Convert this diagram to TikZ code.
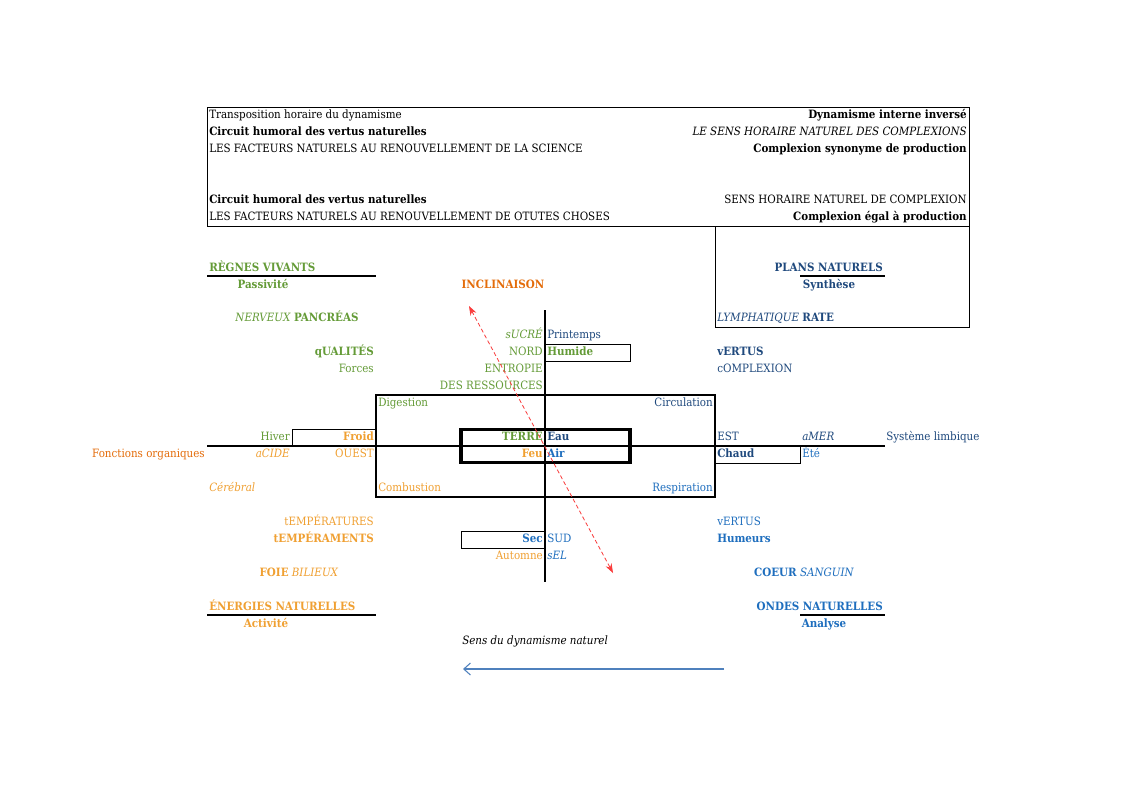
\documentclass[tikz,border=0pt]{standalone}
\usepackage{fontspec}
\setmainfont{DejaVu Serif Condensed}
\usetikzlibrary{arrows.meta}

\definecolor{vert}{RGB}{100,155,55}
\definecolor{bleufonce}{RGB}{31,73,125}
\definecolor{bleu}{RGB}{30,110,190}
\definecolor{orangefonce}{RGB}{228,108,10}
\definecolor{orangeclair}{RGB}{240,160,50}
\definecolor{rouge}{RGB}{250,60,60}
\definecolor{bleuacier}{RGB}{79,129,189}

\begin{document}
\begin{tikzpicture}[
    x=0.75pt, y=-0.75pt,
    txt/.style={inner sep=0pt, font=\fontsize{8.6}{10}\selectfont},
    lft/.style={txt, anchor=base west},
    rgt/.style={txt, anchor=base east},
    mid/.style={txt, anchor=base},
    axis/.style={line width=2.1pt},
    cell/.style={draw, line width=0.75pt},
    thickbox/.style={draw, line width=2.6pt},
    underline/.style={line width=2.2pt}
]

% Page
\fill[white] (0,0) rectangle (1123,794);
\useasboundingbox (0,0) rectangle (1123,794);

% Header frame
\draw[line width=0.75pt] (207,107) rectangle (969,226);
\draw[line width=0.75pt] (715,226) -- (715,327) -- (969,327) -- (969,226);

% Header, left
\node[lft] (transpo) at (209,118.5) {Transposition horaire du dynamisme};
\node[lft] (circuitA) at (209,135.5) {\textbf{Circuit humoral des vertus naturelles}};
\node[lft] (facteursA) at (209,152.4) {LES FACTEURS NATURELS AU RENOUVELLEMENT DE LA SCIENCE};
\node[lft] (circuitB) at (209,203.3) {\textbf{Circuit humoral des vertus naturelles}};
\node[lft] (facteursB) at (209,220.2) {LES FACTEURS NATURELS AU RENOUVELLEMENT DE OTUTES CHOSES};

% Header, right
\node[rgt] (dynint) at (967,118.5) {\textbf{Dynamisme interne invers\'e}};
\node[rgt] (senshor) at (967,135.5) {\textit{LE SENS HORAIRE NATUREL DES COMPLEXIONS}};
\node[rgt] (complexA) at (967,152.4) {\textbf{Complexion synonyme de production}};
\node[rgt] (senscompl) at (967,203.3) {SENS HORAIRE NATUREL DE COMPLEXION};
\node[rgt] (complexB) at (967,220.2) {\textbf{Complexion \'egal \`a production}};

% Corner titles
\node[lft, text=vert] (regnes) at (209,271.1) {\textbf{R\`EGNES VIVANTS}};
\node[mid, text=vert] (passiv) at (263,288) {\textbf{Passivit\'e}};
\node[mid, text=orangefonce] (inclin) at (503,288) {\textbf{INCLINAISON}};
\node[rgt, text=bleufonce] (plans) at (883,271.1) {\textbf{PLANS NATURELS}};
\node[mid, text=bleufonce] (synth) at (829,288) {\textbf{Synth\`ese}};
\draw[underline] (207,276) -- (376,276);
\draw[underline] (800,276) -- (885,276);

% Upper left quarter
\node[mid, text=vert] (pancreas) at (297,321.9) {\textit{NERVEUX} \textbf{PANCR\'EAS}};
\node[rgt, text=vert] (qualites) at (374,355.8) {\textbf{qUALIT\'ES}};
\node[rgt, text=vert] (forces) at (374,372.8) {Forces};
\node[rgt, text=vert] (sucre) at (543,338.9) {\textit{sUCR\'E}};
\node[lft, text=bleufonce] (printemps) at (547,338.9) {Printemps};
\node[rgt, text=vert] (nord) at (543,355.8) {NORD};
\node[lft, text=vert] (humide) at (547,355.8) {\textbf{Humide}};
\node[rgt, text=vert] (entropie) at (543,372.8) {ENTROPIE};
\node[rgt, text=vert] (ressources) at (543,389.7) {DES RESSOURCES};

% Upper right quarter
\node[lft, text=bleufonce] (rate) at (717,321.9) {\textit{LYMPHATIQUE} \textbf{RATE}};
\node[lft, text=bleufonce] (vertusA) at (717,355.8) {\textbf{vERTUS}};
\node[lft, text=bleufonce] (complexion) at (717,372.8) {cOMPLEXION};

% Centre box
\node[lft, text=vert] (digestion) at (378,406.7) {Digestion};
\node[rgt, text=bleufonce] (circulation) at (713,406.7) {Circulation};
\node[lft, text=orangeclair] (combustion) at (378,491.4) {Combustion};
\node[rgt, text=bleu] (respiration) at (713,491.4) {Respiration};

% Axis row, above
\node[rgt, text=vert] (hiver) at (290,440.6) {Hiver};
\node[rgt, text=orangeclair] (froid) at (374,440.6) {\textbf{Froid}};
\node[rgt, text=vert] (terre) at (543,440.6) {\textbf{TERRE}};
\node[lft, text=bleufonce] (eau) at (547,440.6) {\textbf{Eau}};
\node[lft, text=bleufonce] (est) at (717,440.6) {EST};
\node[lft, text=bleufonce] (amer) at (802,440.6) {\textit{aMER}};
\node[lft, text=bleufonce] (limbique) at (886,440.6) {Syst\`eme limbique};

% Axis row, below
\node[rgt, text=orangefonce] (fonctions) at (205,457.5) {Fonctions organiques};
\node[rgt, text=orangeclair] (acide) at (290,457.5) {\textit{aCIDE}};
\node[rgt, text=orangeclair] (ouest) at (374,457.5) {OUEST};
\node[rgt, text=orangeclair] (feu) at (543,457.5) {\textbf{Feu}};
\node[lft, text=bleu] (air) at (547,457.5) {\textbf{Air}};
\node[lft, text=bleufonce] (chaud) at (717,457.5) {\textbf{Chaud}};
\node[lft, text=bleu] (ete) at (802,457.5) {\'Et\'e};
\node[lft, text=orangeclair] (cerebral) at (209,491.4) {\textit{C\'er\'ebral}};

% Lower left quarter
\node[rgt, text=orangeclair] (temperatures) at (374,525.3) {tEMP\'ERATURES};
\node[rgt, text=orangeclair] (temperaments) at (374,542.3) {\textbf{tEMP\'ERAMENTS}};
\node[rgt, text=bleu] (sec) at (543,542.3) {\textbf{Sec}};
\node[lft, text=bleu] (sud) at (547,542.3) {SUD};
\node[rgt, text=orangeclair] (automne) at (543,559.2) {Automne};
\node[lft, text=bleu] (sel) at (547,559.2) {\textit{sEL}};
\node[mid, text=orangeclair] (foie) at (299,576.2) {\textbf{FOIE} \textit{BILIEUX}};

% Lower right quarter
\node[lft, text=bleu] (vertusB) at (717,525.3) {vERTUS};
\node[lft, text=bleu] (humeurs) at (717,542.3) {\textbf{Humeurs}};
\node[mid, text=bleu] (coeur) at (804,576.2) {\textbf{COEUR} \textit{SANGUIN}};

% Bottom titles
\node[lft, text=orangeclair] (energies) at (209,610.1) {\textbf{\'ENERGIES NATURELLES}};
\node[mid, text=orangeclair] (activite) at (266,627) {\textbf{Activit\'e}};
\node[rgt, text=bleu] (ondes) at (883,610.1) {\textbf{ONDES NATURELLES}};
\node[mid, text=bleu] (analyse) at (824,627) {\textbf{Analyse}};
\draw[underline] (207,615) -- (376,615);
\draw[underline] (800,615) -- (885,615);

% Cells
\draw[cell] (292,429) rectangle (376,446);
\draw[cell] (545,344.5) rectangle (630,361.5);
\draw[cell] (715,446) rectangle (800,463);
\draw[cell] (461,531) rectangle (545,548);

% Cross and boxes
\draw[axis] (207,446) -- (885,446);
\draw[axis] (545,310) -- (545,582);
\draw[axis] (376,395) rectangle (715,497);
\draw[thickbox] (461,429.5) rectangle (630,462.5);

% Inclination
\coordinate (inclinA) at (469,306);
\coordinate (inclinB) at (613,573);
\draw[rouge, densely dashed, line width=0.6pt, {Stealth[length=7pt,width=5pt]}-{Stealth[length=7pt,width=5pt]}] (inclinA) -- (inclinB);

% Natural direction
\node[lft] (sens) at (462,644) {\textit{Sens du dynamisme naturel}};
\coordinate (sensA) at (724,669);
\coordinate (sensB) at (463,669);
\draw[bleuacier, line width=0.8pt, -{Straight Barb[length=5pt,width=9pt]}] (sensA) -- (sensB);

\end{tikzpicture}
\end{document}
